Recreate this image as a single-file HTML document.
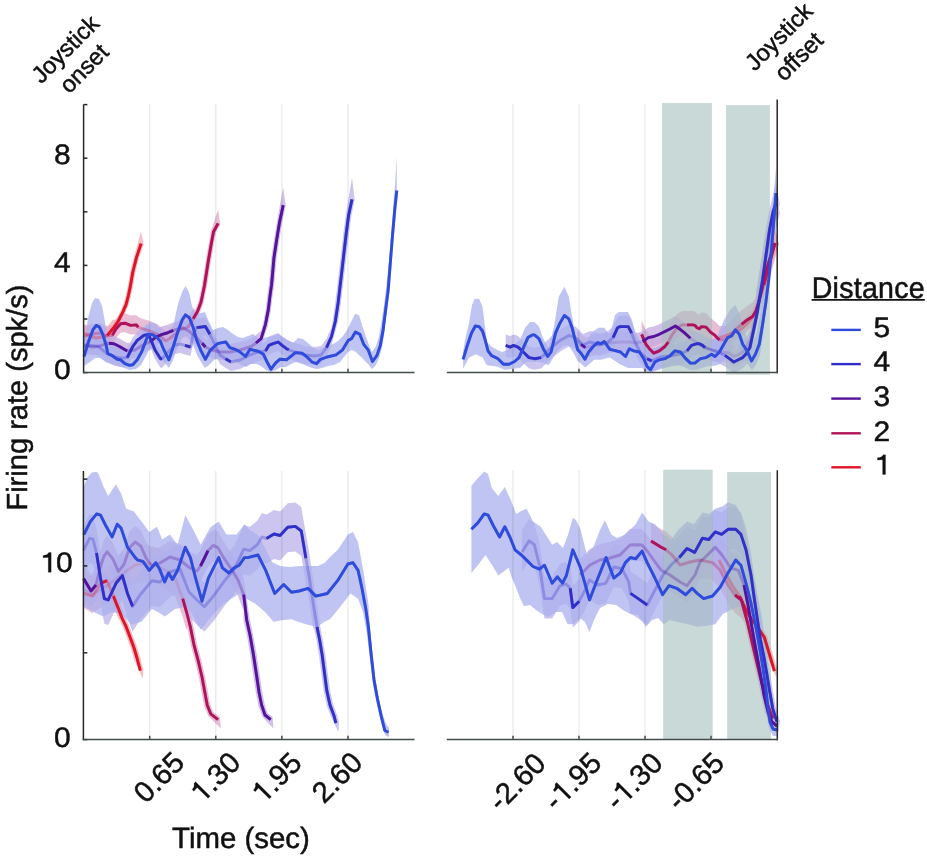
<!DOCTYPE html>
<html><head><meta charset="utf-8"><style>
html,body{margin:0;padding:0;background:#fff;}
svg{display:block;}
text{font-family:"Liberation Sans",sans-serif;fill:#111;text-rendering:geometricPrecision;}
</style></head><body>
<svg width="927" height="857" viewBox="0 0 927 857">
<rect width="927" height="857" fill="#fff"/>
<g stroke="#c8cccc" stroke-opacity="0.45" stroke-width="1.2"><line x1="149.7" y1="104" x2="149.7" y2="372.6"/><line x1="149.7" y1="471" x2="149.7" y2="739.4"/><line x1="215.8" y1="104" x2="215.8" y2="372.6"/><line x1="215.8" y1="471" x2="215.8" y2="739.4"/><line x1="281.9" y1="104" x2="281.9" y2="372.6"/><line x1="281.9" y1="471" x2="281.9" y2="739.4"/><line x1="348.0" y1="104" x2="348.0" y2="372.6"/><line x1="348.0" y1="471" x2="348.0" y2="739.4"/><line x1="513" y1="104" x2="513" y2="372.6"/><line x1="513" y1="470" x2="513" y2="739.4"/><line x1="579" y1="104" x2="579" y2="372.6"/><line x1="579" y1="470" x2="579" y2="739.4"/><line x1="645" y1="104" x2="645" y2="372.6"/><line x1="645" y1="470" x2="645" y2="739.4"/><line x1="711" y1="104" x2="711" y2="372.6"/><line x1="711" y1="470" x2="711" y2="739.4"/></g>
<rect x="662.1" y="103" width="49.7" height="269.6" fill="#c9d9d8"/>
<rect x="726.1" y="105.2" width="43.7" height="269.4" fill="#c9d9d8"/>
<rect x="663.3" y="469.8" width="49.3" height="269.6" fill="#c9d9d8"/>
<rect x="727.3" y="472.1" width="43.7" height="267.3" fill="#c9d9d8"/>
<g style="isolation:isolate;mix-blend-mode:multiply"><polygon points="84.0,324.0 90.0,327.0 96.0,329.0 102.0,328.0 107.3,326.4 112.8,319.8 116.1,319.7 120.4,311.0 123.6,303.6 125.8,295.4 127.9,285.0 130.3,271.5 134.0,256.7 141.1,231.6 143.6,244.4 139.0,258.1 135.3,272.5 133.1,286.0 130.8,296.6 128.6,305.2 125.2,313.2 120.5,322.3 112.8,336.8 107.3,343.4 102.0,345.0 96.0,346.0 90.0,344.0 84.0,341.0" fill="rgb(242,168,175)" fill-opacity="0.75"/><polygon points="84.0,326.0 92.0,324.0 100.0,323.0 106.0,326.0 112.3,325.4 116.1,318.8 120.6,313.8 125.0,313.2 130.5,315.4 136.1,314.9 138.3,317.1 143.0,319.0 150.0,321.0 157.0,324.0 166.0,331.0 173.0,326.0 180.0,320.0 188.0,317.0 193.2,308.8 195.3,309.9 198.5,301.5 201.8,285.5 205.4,262.5 208.2,245.9 211.0,230.9 218.1,209.4 220.4,224.7 216.0,232.5 213.4,246.9 210.6,263.3 207.0,286.5 203.5,302.9 200.1,312.1 193.2,327.8 188.0,336.0 180.0,339.0 173.0,345.0 166.0,350.0 157.0,343.0 150.0,340.0 143.0,338.0 138.3,336.1 136.1,333.9 130.5,334.4 125.0,332.2 120.6,332.8 116.1,337.8 112.3,344.4 106.0,345.0 100.0,342.0 92.0,343.0 84.0,345.0" fill="rgb(224,168,202)" fill-opacity="0.75"/><polygon points="84.0,337.0 92.0,339.0 100.0,338.0 105.0,336.0 108.9,335.2 113.9,335.7 119.5,338.5 127.2,342.9 135.0,342.0 143.0,337.0 150.0,334.0 156.0,329.0 162.2,326.3 167.0,325.0 173.3,322.4 182.2,319.6 188.8,323.0 195.0,328.0 202.1,335.2 205.4,339.0 212.0,342.0 220.0,344.0 230.0,344.0 240.0,342.0 251.1,338.5 256.0,335.0 261.1,330.7 263.0,323.7 265.7,309.5 267.3,296.3 269.0,284.1 271.4,257.1 274.2,238.6 276.9,222.0 283.2,187.1 285.7,205.6 282.1,223.0 279.4,239.4 276.6,257.7 274.2,284.7 272.5,296.9 270.9,310.3 268.0,324.9 261.1,346.7 256.0,351.0 251.1,354.5 240.0,358.0 230.0,360.0 220.0,360.0 212.0,358.0 205.4,355.0 202.1,351.2 195.0,344.0 188.8,339.0 182.2,335.6 173.3,338.4 167.0,341.0 162.2,342.3 156.0,345.0 150.0,350.0 143.0,353.0 135.0,358.0 127.2,358.9 119.5,354.5 113.9,351.7 108.9,351.2 105.0,352.0 100.0,354.0 92.0,355.0 84.0,353.0" fill="rgb(195,171,224)" fill-opacity="0.75"/><polygon points="84.0,337.5 90.6,336.4 98.4,337.5 106.2,344.0 115.0,348.0 122.0,349.0 127.2,348.6 132.8,337.5 137.2,331.4 143.8,326.4 148.3,325.3 151.0,331.0 154.9,340.8 160.5,349.7 162.2,349.7 168.0,343.0 175.0,336.0 180.0,335.0 185.0,336.4 190.5,338.0 193.0,326.0 196.6,318.6 205.4,317.5 209.9,325.3 215.0,336.0 220.0,346.0 225.4,349.7 230.9,353.0 240.0,351.0 250.0,346.0 258.0,343.0 265.5,341.9 268.8,336.4 273.2,334.7 278.2,333.0 282.1,336.4 286.5,339.7 288.8,340.8 295.0,343.0 305.0,346.0 315.0,347.0 321.0,346.0 326.5,338.6 331.5,327.5 332.7,320.5 335.4,301.8 339.8,264.6 343.2,234.8 345.8,214.8 352.0,177.4 354.7,200.0 351.4,215.8 348.8,235.4 345.4,265.2 341.0,302.6 338.1,321.5 331.5,345.5 326.5,356.6 321.0,364.0 315.0,365.0 305.0,364.0 295.0,361.0 288.8,358.8 286.5,357.7 282.1,354.4 278.2,351.0 273.2,352.7 268.8,354.4 265.5,359.9 258.0,361.0 250.0,364.0 240.0,369.0 230.9,371.0 225.4,367.7 220.0,364.0 215.0,354.0 209.9,343.3 205.4,335.5 196.6,336.6 193.0,344.0 190.5,356.0 185.0,354.4 180.0,353.0 175.0,354.0 168.0,361.0 162.2,367.7 160.5,367.7 154.9,358.8 151.0,349.0 148.3,343.3 143.8,344.4 137.2,349.4 132.8,355.5 127.2,366.6 122.0,367.0 115.0,366.0 106.2,362.0 98.4,355.5 90.6,354.4 84.0,355.5" fill="rgb(186,178,234)" fill-opacity="0.75"/><polygon points="84.0,345.0 88.0,318.0 92.0,303.0 95.0,298.0 99.0,299.0 102.0,306.0 105.0,322.0 108.0,340.0 114.0,346.0 122.0,349.0 130.0,352.0 136.0,347.0 141.0,336.0 146.0,325.0 151.0,322.0 156.0,324.0 161.0,330.0 166.0,342.0 170.0,340.0 174.0,322.0 178.0,304.0 182.0,292.0 185.5,286.0 189.0,292.0 192.0,306.0 196.0,314.0 201.0,313.0 205.0,312.0 209.0,322.0 213.0,330.0 218.0,328.0 223.0,327.0 228.0,330.0 233.0,334.0 238.0,337.0 243.0,338.0 248.0,336.0 253.0,334.0 258.0,338.0 263.0,338.0 268.0,337.0 273.0,336.0 278.0,334.0 283.0,337.0 288.0,340.0 293.0,343.0 298.0,338.0 303.0,339.0 308.0,343.0 313.0,348.0 318.0,350.0 323.0,348.0 328.0,346.0 333.0,344.0 338.0,341.0 343.0,336.0 347.0,330.0 351.0,322.0 355.0,314.0 359.0,315.0 362.0,325.0 365.0,334.0 369.0,345.0 372.0,352.0 376.0,346.0 379.0,336.0 381.0,325.0 383.0,312.0 385.0,298.0 387.0,280.0 389.0,260.0 391.0,238.0 393.0,210.0 395.0,185.0 396.8,156.0 396.8,193.0 396.0,200.0 394.0,225.0 392.0,250.0 390.0,275.0 388.0,298.0 386.0,318.0 384.0,335.0 382.0,348.0 379.0,358.0 376.0,365.0 372.0,369.0 368.0,364.0 364.0,360.0 360.0,356.0 356.0,352.0 352.0,350.0 348.0,352.0 344.0,357.0 340.0,362.0 334.0,365.0 328.0,366.0 322.0,368.0 317.0,369.0 312.0,368.0 307.0,366.0 302.0,364.0 296.0,362.0 291.0,364.0 286.0,367.0 281.0,367.0 276.0,370.0 271.0,372.0 266.0,370.0 261.0,366.0 256.0,364.0 251.0,364.0 246.0,367.0 241.0,365.0 236.0,362.0 230.0,360.0 225.0,357.0 219.0,358.0 214.0,360.0 209.0,365.0 205.0,368.0 201.0,362.0 197.0,355.0 193.0,345.0 189.0,338.0 185.0,335.0 181.0,340.0 177.0,349.0 173.0,360.0 169.0,368.0 164.0,362.0 160.0,356.0 155.0,350.0 150.0,348.0 146.0,356.0 141.0,365.0 136.0,369.0 130.0,370.0 124.0,368.0 118.0,366.0 112.0,364.0 106.0,362.0 100.0,358.0 95.0,358.0 90.0,362.0 84.0,366.0" fill="rgb(171,176,238)" fill-opacity="0.75"/><polygon points="719.0,330.0 725.0,328.0 732.0,325.0 740.0,322.0 746.0,317.0 752.0,310.0 758.0,297.0 760.1,283.9 766.1,261.0 775.0,229.0 778.9,244.0 773.9,263.0 767.9,286.1 758.0,313.0 752.0,326.0 746.0,333.0 740.0,338.0 732.0,341.0 725.0,344.0 719.0,346.0" fill="rgb(242,168,175)" fill-opacity="0.75"/><polygon points="641.6,320.3 646.0,330.3 649.4,334.7 653.8,339.2 659.3,336.9 664.9,332.5 668.2,328.1 672.0,321.0 677.0,314.0 682.0,311.0 687.0,310.9 692.6,310.9 695.0,311.4 697.0,313.7 699.4,314.8 701.5,312.6 706.1,313.1 710.5,318.1 715.0,321.4 719.4,325.9 725.0,326.0 730.0,322.0 735.0,316.0 741.6,310.3 747.1,305.9 752.6,302.6 756.0,297.0 758.7,288.2 757.6,290.2 761.1,274.0 766.2,256.8 775.0,227.0 778.8,244.3 773.8,259.2 768.9,276.0 765.4,292.0 758.7,312.2 756.0,321.0 752.6,326.6 747.1,329.9 741.6,334.3 735.0,340.0 730.0,346.0 725.0,350.0 719.4,349.9 715.0,345.4 710.5,342.1 706.1,337.1 701.5,336.6 699.4,338.8 697.0,337.7 695.0,335.4 692.6,334.9 687.0,334.9 682.0,335.0 677.0,338.0 672.0,345.0 668.2,352.1 664.9,356.5 659.3,360.9 653.8,363.2 649.4,358.7 646.0,354.3 641.6,344.3" fill="rgb(224,168,202)" fill-opacity="0.75"/><polygon points="577.0,331.0 581.0,334.3 585.4,337.6 592.0,336.0 600.0,334.0 610.0,333.0 620.0,332.0 630.0,332.0 636.0,333.0 642.7,331.5 648.3,327.6 653.8,326.5 659.3,324.3 664.9,321.5 670.4,318.8 675.4,316.0 679.3,318.8 683.7,322.1 690.4,328.2 700.0,335.0 712.0,340.0 720.0,342.0 728.3,342.6 733.8,346.5 739.3,344.3 745.0,340.0 750.0,330.0 755.0,310.0 756.1,291.3 761.1,261.3 766.1,235.1 776.0,194.0 779.9,213.0 773.9,236.9 768.9,262.7 763.9,292.7 755.0,330.0 750.0,350.0 745.0,360.0 739.3,364.3 733.8,366.5 728.3,362.6 720.0,362.0 712.0,360.0 700.0,355.0 690.4,348.2 683.7,342.1 679.3,338.8 675.4,336.0 670.4,338.8 664.9,341.5 659.3,344.3 653.8,346.5 648.3,347.6 642.7,351.5 636.0,353.0 630.0,352.0 620.0,352.0 610.0,353.0 600.0,354.0 592.0,356.0 585.4,357.6 581.0,354.3 577.0,351.0" fill="rgb(195,171,224)" fill-opacity="0.75"/><polygon points="505.7,334.4 510.2,336.1 513.5,334.4 518.0,336.1 524.6,342.2 529.0,346.6 534.6,347.7 541.1,346.6 552.2,335.5 561.0,328.9 568.8,324.4 576.0,327.0 583.0,334.0 590.0,331.0 600.0,334.0 608.0,331.0 613.1,326.6 617.6,316.7 620.0,315.6 623.9,315.6 628.3,315.6 631.6,322.2 635.0,331.0 640.0,341.0 647.1,347.7 651.6,349.9 660.0,346.0 670.0,345.0 680.0,343.0 687.0,339.9 691.5,334.4 697.0,332.7 699.4,332.7 702.6,334.4 705.0,336.6 712.0,339.0 718.0,341.0 724.9,344.4 729.4,347.7 733.8,351.0 739.3,348.3 742.7,346.6 746.0,343.0 749.9,336.6 753.7,318.9 757.1,302.3 756.5,292.6 758.6,279.4 762.0,254.5 765.6,229.4 769.1,211.1 776.0,183.0 779.8,204.3 776.9,212.9 773.4,230.6 770.0,255.5 766.6,280.6 764.3,294.0 757.1,324.3 753.7,340.9 749.9,358.6 746.0,365.0 742.7,368.6 739.3,370.3 733.8,373.0 729.4,369.7 724.9,366.4 718.0,363.0 712.0,361.0 705.0,358.6 702.6,356.4 699.4,354.7 697.0,354.7 691.5,356.4 687.0,361.9 680.0,365.0 670.0,367.0 660.0,368.0 651.6,371.9 647.1,369.7 640.0,363.0 635.0,353.0 631.6,344.2 628.3,337.6 623.9,337.6 620.0,337.6 617.6,338.7 613.1,348.6 608.0,353.0 600.0,356.0 590.0,353.0 583.0,356.0 576.0,349.0 568.8,346.4 561.0,350.9 552.2,357.5 541.1,368.6 534.6,369.7 529.0,368.6 524.6,364.2 518.0,358.1 513.5,356.4 510.2,358.1 505.7,356.4" fill="rgb(186,178,234)" fill-opacity="0.75"/><polygon points="463.1,352.0 465.0,340.0 469.2,322.1 472.0,305.0 474.7,298.8 479.1,298.8 482.5,306.6 484.7,324.3 486.9,342.1 491.3,346.5 496.9,349.8 502.0,352.0 508.0,350.0 514.0,345.0 520.0,340.0 525.0,328.0 530.0,322.1 534.4,322.0 538.9,326.6 543.0,338.0 548.8,348.7 554.4,324.3 558.8,296.6 564.4,286.7 568.8,296.6 572.1,316.6 575.4,335.4 580.0,340.0 586.0,342.0 592.1,332.1 598.7,327.7 604.3,327.7 609.8,335.4 615.0,315.0 619.0,312.0 628.0,312.0 632.0,320.0 636.0,335.0 640.0,342.0 648.0,348.0 655.0,348.0 662.0,345.0 670.0,340.0 676.0,335.0 682.0,340.0 688.0,345.0 694.0,348.0 700.0,345.0 706.0,342.0 712.0,340.0 718.0,335.0 724.0,320.0 730.0,310.0 735.5,305.0 740.0,315.0 744.0,330.0 748.0,340.0 752.0,345.0 756.0,335.0 760.0,315.0 763.0,295.0 766.0,270.0 769.0,245.0 772.0,215.0 774.0,190.0 776.0,168.0 776.0,200.0 774.0,230.0 772.0,255.0 769.0,285.0 766.0,310.0 763.0,335.0 760.0,355.0 756.0,365.0 752.0,370.0 749.0,366.0 745.0,360.0 741.0,352.0 737.0,345.0 732.0,350.0 726.0,358.0 720.0,364.0 714.0,366.0 708.0,366.0 702.0,368.0 696.0,370.0 690.0,370.0 684.0,367.0 678.0,365.0 672.0,365.0 665.0,368.0 658.0,370.0 652.0,372.0 647.0,372.0 642.0,368.0 636.0,368.0 628.0,368.0 620.0,364.2 609.8,357.6 600.9,359.8 594.3,359.8 585.4,367.6 577.7,360.9 573.0,352.0 568.0,345.0 563.0,346.0 557.7,350.9 553.0,358.0 548.8,365.3 540.0,362.0 530.0,362.0 526.0,362.0 520.0,368.0 513.5,368.7 504.6,369.8 496.9,366.5 486.9,365.3 482.5,357.6 475.8,354.3 469.2,357.6 463.1,368.7" fill="rgb(171,176,238)" fill-opacity="0.75"/><polygon points="83.9,583.5 92.8,586.1 100.5,573.3 107.0,570.7 113.4,586.1 118.5,598.9 124.9,616.7 129.1,625.7 133.0,635.9 136.9,646.5 140.1,657.1 143.4,669.8 142.7,678.6 133.9,658.9 130.9,648.5 127.0,638.1 123.3,628.1 119.1,619.3 118.5,618.9 113.4,606.1 107.0,590.7 100.5,593.3 92.8,606.1 83.9,603.5" fill="rgb(242,168,175)" fill-opacity="0.75"/><polygon points="84.0,572.0 92.0,577.0 100.0,572.0 108.0,567.0 115.0,562.0 125.0,554.0 135.0,547.0 145.0,545.0 155.0,547.0 165.0,552.0 175.0,560.0 182.7,580.7 186.5,594.0 193.5,626.2 197.1,644.3 201.2,659.5 205.1,676.4 210.3,704.4 213.5,712.3 220.0,717.0 220.8,728.6 208.3,716.1 204.1,705.8 198.9,677.6 195.0,661.1 190.9,645.7 187.3,627.6 186.5,630.0 182.7,616.7 175.0,596.0 165.0,588.0 155.0,583.0 145.0,581.0 135.0,583.0 125.0,590.0 115.0,598.0 108.0,603.0 100.0,608.0 92.0,613.0 84.0,608.0" fill="rgb(224,168,202)" fill-opacity="0.75"/><polygon points="83.6,562.5 91.0,575.0 96.0,569.0 100.0,552.0 104.0,540.0 107.2,535.8 112.8,542.8 118.4,555.4 124.0,548.4 129.6,531.6 135.2,526.0 140.8,530.2 146.0,542.0 152.0,550.0 160.0,547.0 170.0,541.0 180.0,544.0 190.0,552.0 197.0,555.0 200.5,550.0 204.5,542.0 208.0,534.7 213.4,529.4 217.9,531.6 224.0,542.3 232.0,554.0 238.0,564.0 243.7,578.7 249.9,619.5 253.1,634.4 256.7,654.5 259.7,674.5 262.2,691.5 264.7,704.2 267.7,713.3 272.7,717.1 273.4,728.6 262.3,716.7 258.5,705.8 255.8,692.5 253.3,675.5 250.3,655.5 246.9,635.6 243.5,620.5 243.7,610.7 238.0,596.0 232.0,586.0 224.0,574.3 217.9,563.6 213.4,561.4 208.0,566.7 204.5,574.0 200.5,582.0 197.0,587.0 190.0,584.0 180.0,576.0 170.0,573.0 160.0,579.0 152.0,582.0 146.0,574.0 140.8,562.2 135.2,558.0 129.6,563.6 124.0,580.4 118.4,587.4 112.8,574.8 107.2,567.8 104.0,572.0 100.0,584.0 96.0,601.0 91.0,607.0 83.6,594.5" fill="rgb(195,171,224)" fill-opacity="0.75"/><polygon points="83.4,526.6 89.5,514.3 93.0,515.2 96.5,529.0 100.5,554.1 104.4,574.7 108.2,576.0 116.0,559.3 122.4,551.6 127.5,569.5 132.6,582.4 140.0,571.0 151.9,556.7 160.0,558.0 170.0,548.0 180.0,545.0 189.0,568.0 197.0,576.0 204.3,582.8 213.4,572.2 225.5,555.5 234.6,544.9 243.7,525.2 249.8,526.7 257.4,520.6 261.9,513.0 266.5,514.5 274.0,510.0 280.1,511.5 287.7,503.2 295.3,502.4 301.3,507.0 305.9,534.3 308.9,550.9 313.5,581.3 320.2,626.3 322.7,639.2 325.4,654.8 330.0,690.1 333.1,704.1 337.1,715.0 339.0,722.4 338.6,732.2 331.1,717.0 326.9,705.9 323.6,691.1 319.0,655.6 316.5,640.4 313.8,627.5 313.5,630.3 308.9,599.9 305.9,583.3 301.3,556.0 295.3,551.4 287.7,552.2 280.1,560.5 274.0,559.0 266.5,563.5 261.9,562.0 257.4,569.6 249.8,575.7 243.7,574.2 234.6,593.9 225.5,604.5 213.4,621.2 204.3,631.8 197.0,625.0 189.0,617.0 180.0,594.0 170.0,597.0 160.0,607.0 151.9,605.7 140.0,620.0 132.6,631.4 127.5,618.5 122.4,600.6 116.0,608.3 108.2,625.0 104.4,623.7 100.5,603.1 96.5,578.0 93.0,564.2 89.5,563.3 83.4,575.6" fill="rgb(186,178,234)" fill-opacity="0.75"/><polygon points="83.9,485.7 87.0,478.0 91.6,472.8 95.7,471.7 98.0,472.8 101.0,480.0 103.1,485.7 108.2,496.0 112.0,490.0 116.0,484.4 121.1,493.4 126.2,508.8 133.9,511.4 141.6,521.6 149.3,531.9 157.0,526.8 162.2,539.6 169.9,534.5 177.6,544.7 185.3,515.2 193.0,529.3 200.7,544.7 206.0,535.0 211.0,526.8 218.7,521.6 226.4,534.5 236.6,534.5 244.4,524.2 250.0,530.0 258.0,535.0 265.0,548.0 272.0,562.0 280.0,566.0 290.0,567.0 300.0,566.0 310.0,566.0 318.0,566.0 324.7,562.7 331.0,556.0 337.6,549.9 343.0,542.0 347.9,534.5 353.0,531.9 358.1,542.2 363.3,570.4 368.4,603.8 371.0,640.0 374.0,670.0 378.0,695.0 382.0,712.0 386.0,724.0 389.0,728.0 389.0,737.0 385.0,735.0 381.0,722.0 377.0,705.0 373.0,685.0 370.0,660.0 367.0,635.0 363.0,612.0 358.1,598.7 350.4,593.5 342.7,603.8 336.0,612.0 329.9,619.2 324.0,622.0 317.0,626.9 306.8,624.4 299.0,622.0 291.4,619.2 283.0,620.0 273.4,621.8 265.0,612.0 255.4,603.8 245.0,598.0 239.2,593.5 223.8,603.8 213.5,614.1 207.0,622.0 200.7,629.5 194.0,618.0 187.9,606.4 175.0,608.9 164.7,616.6 158.0,612.0 151.9,608.9 141.6,621.8 131.4,624.4 121.1,614.1 112.0,612.0 103.1,616.6 92.8,611.5 83.9,606.4" fill="rgb(171,176,238)" fill-opacity="0.75"/><polygon points="719.0,548.0 725.0,560.0 732.0,573.0 739.6,584.0 746.0,598.0 752.0,608.0 760.6,626.1 767.2,635.9 772.5,653.2 777.5,670.2 776.2,677.1 766.3,655.0 761.4,638.5 755.4,629.9 752.0,632.0 746.0,622.0 739.6,608.0 732.0,597.0 725.0,584.0 719.0,572.0" fill="rgb(242,168,175)" fill-opacity="0.75"/><polygon points="651.0,523.0 654.7,525.3 661.2,529.3 666.1,531.8 672.0,537.0 680.0,547.0 690.0,544.0 700.0,542.0 712.6,544.6 720.0,552.0 728.0,567.0 735.0,577.0 741.4,582.0 750.5,621.2 757.2,650.1 764.0,678.7 770.8,704.0 775.7,717.3 774.5,724.4 764.6,705.8 757.8,680.3 751.0,651.5 744.3,622.8 741.4,618.0 735.0,613.0 728.0,603.0 720.0,588.0 712.6,580.6 700.0,578.0 690.0,580.0 680.0,583.0 672.0,573.0 666.1,567.8 661.2,565.3 654.7,561.3 651.0,559.0" fill="rgb(224,168,202)" fill-opacity="0.75"/><polygon points="580.0,559.0 590.0,549.0 600.0,544.0 610.0,542.0 620.0,539.0 630.0,529.0 636.0,528.7 642.0,529.0 648.0,536.0 655.0,546.0 661.3,554.3 670.0,559.0 680.0,566.0 687.0,569.7 695.0,559.0 700.0,546.0 707.5,539.0 715.2,531.2 722.0,539.0 730.6,551.8 738.3,554.3 744.0,569.0 748.0,589.0 755.2,627.4 759.1,649.4 763.2,671.4 767.1,694.4 771.1,711.1 774.7,720.3 779.0,723.5 778.8,732.0 769.3,723.7 764.9,712.9 760.9,695.6 756.8,672.6 752.9,650.6 748.8,628.6 748.0,621.0 744.0,601.0 738.3,586.3 730.6,583.8 722.0,571.0 715.2,563.2 707.5,571.0 700.0,578.0 695.0,591.0 687.0,601.7 680.0,598.0 670.0,591.0 661.3,586.3 655.0,578.0 648.0,568.0 642.0,561.0 636.0,560.7 630.0,561.0 620.0,571.0 610.0,574.0 600.0,576.0 590.0,581.0 580.0,591.0" fill="rgb(195,171,224)" fill-opacity="0.75"/><polygon points="522.0,530.0 529.1,518.9 534.3,522.7 539.4,543.0 544.5,576.6 552.2,576.6 560.0,563.8 566.0,562.0 570.2,566.3 572.8,585.6 579.2,579.2 585.0,568.0 589.4,558.0 597.6,563.0 605.7,561.3 613.9,545.0 622.0,546.6 628.6,559.6 630.5,571.4 638.2,576.6 647.2,583.0 655.0,568.0 663.0,553.0 671.0,543.0 679.3,535.5 687.0,526.5 694.7,530.4 702.4,516.3 708.8,517.5 715.2,509.9 721.6,512.4 728.0,507.3 735.7,507.3 740.9,512.4 746.0,527.8 751.1,553.5 754.5,578.0 757.5,598.0 763.7,639.5 767.4,658.6 770.2,674.5 772.6,689.2 775.8,707.6 778.0,715.0 780.0,720.8 778.8,727.8 772.0,717.0 769.6,709.0 766.2,690.2 763.8,675.5 761.2,659.8 757.3,640.5 757.5,640.0 754.5,620.0 751.1,595.5 746.0,569.8 740.9,554.4 735.7,549.3 728.0,549.3 721.6,554.4 715.2,551.9 708.8,559.5 702.4,558.3 694.7,572.4 687.0,568.5 679.3,577.5 671.0,585.0 663.0,595.0 655.0,610.0 647.2,625.0 638.2,618.6 630.5,613.4 628.6,601.6 622.0,588.6 613.9,587.0 605.7,603.3 597.6,605.0 589.4,600.0 585.0,610.0 579.2,621.2 572.8,627.6 570.2,608.3 566.0,604.0 560.0,605.8 552.2,618.6 544.5,618.6 539.4,585.0 534.3,564.7 529.1,560.9 522.0,572.0" fill="rgb(186,178,234)" fill-opacity="0.75"/><polygon points="471.4,485.7 478.0,478.0 484.2,471.6 488.0,474.0 491.9,488.2 498.3,495.9 504.8,487.0 511.2,501.1 516.3,513.9 521.0,511.0 526.6,508.8 533.0,521.6 540.7,526.7 546.0,535.0 552.2,544.7 557.0,542.0 563.0,548.0 568.0,535.0 572.8,517.8 576.0,520.0 580.5,529.3 586.9,555.0 593.3,547.3 600.0,530.0 604.9,520.3 611.3,534.4 617.0,538.0 625.4,534.4 635.7,524.2 642.1,512.6 648.5,521.6 654.9,524.2 663.9,534.4 671.0,540.0 678.0,530.0 687.0,521.6 694.0,524.0 702.4,512.6 709.0,514.0 715.2,508.8 722.9,506.2 728.0,502.3 735.7,504.9 740.9,513.9 746.0,537.0 750.0,556.0 753.7,575.5 757.5,595.0 761.4,614.0 765.0,640.0 768.0,670.0 771.0,700.0 774.0,718.0 777.0,722.0 777.0,736.0 773.0,736.0 769.0,728.0 766.0,712.0 762.0,690.0 758.0,668.0 754.0,645.0 750.0,625.0 745.0,612.0 740.0,606.0 733.2,608.8 722.9,614.0 715.2,624.2 705.0,626.0 697.2,626.8 687.0,624.0 678.0,622.0 670.0,620.0 663.9,624.2 658.0,618.0 652.0,620.0 645.9,626.8 638.0,615.0 630.5,614.0 623.0,610.0 616.0,605.0 608.0,604.0 600.0,608.0 594.0,620.0 589.5,632.0 585.0,622.0 580.0,618.0 574.0,624.0 567.6,624.3 562.0,612.0 556.0,612.0 548.0,617.0 542.0,614.0 536.0,610.0 530.0,605.0 524.0,606.3 520.0,598.0 516.3,588.3 512.0,578.0 508.6,567.8 503.0,572.0 498.3,575.5 492.0,565.0 485.5,555.0 478.0,565.0 471.4,572.9" fill="rgb(171,176,238)" fill-opacity="0.75"/></g>
<rect x="662.1" y="103" width="49.7" height="269.6" fill="#c9d9d8" fill-opacity="0.5"/>
<rect x="726.1" y="105.2" width="43.7" height="269.4" fill="#c9d9d8" fill-opacity="0.5"/>
<rect x="663.3" y="469.8" width="49.3" height="269.6" fill="#c9d9d8" fill-opacity="0.5"/>
<rect x="727.3" y="472.1" width="43.7" height="267.3" fill="#c9d9d8" fill-opacity="0.5"/>
<polyline points="84.0,333.0 90.0,336.0 96.0,338.0 102.0,337.0 107.3,335.4 112.8,328.8 118.3,321.0 122.8,312.1 126.1,304.4 128.3,296.0 130.5,285.5 132.8,272.0 136.5,257.4 141.1,243.6" fill="none" stroke="#e01428" stroke-width="2.9" stroke-opacity="0.3" stroke-linejoin="round"/><polyline points="107.3,335.4 112.8,328.8 118.3,321.0 122.8,312.1 126.1,304.4 128.3,296.0 130.5,285.5 132.8,272.0 136.5,257.4 141.1,243.6" fill="none" stroke="#e01428" stroke-width="2.9" stroke-linejoin="round"/><polyline points="84.0,336.0 92.0,334.0 100.0,333.0 106.0,336.0 112.3,335.4 116.1,328.8 120.6,323.8 125.0,323.2 130.5,325.4 136.1,324.9 138.3,327.1 143.0,329.0 150.0,331.0 157.0,334.0 166.0,341.0 173.0,336.0 180.0,330.0 188.0,327.0 193.2,318.8 197.7,311.0 201.0,302.2 204.4,286.0 208.0,262.9 210.8,246.4 213.5,231.7 218.1,223.4" fill="none" stroke="#b0125a" stroke-width="2.9" stroke-opacity="0.3" stroke-linejoin="round"/><polyline points="112.3,335.4 116.1,328.8 120.6,323.8 125.0,323.2 130.5,325.4 136.1,324.9 138.3,327.1" fill="none" stroke="#b0125a" stroke-width="2.9" stroke-linejoin="round"/><polyline points="193.2,318.8 197.7,311.0 201.0,302.2 204.4,286.0 208.0,262.9 210.8,246.4 213.5,231.7 218.1,223.4" fill="none" stroke="#b0125a" stroke-width="2.9" stroke-linejoin="round"/><polyline points="84.0,345.0 92.0,347.0 100.0,346.0 105.0,344.0 108.9,343.2 113.9,343.7 119.5,346.5 127.2,350.9 135.0,350.0 143.0,345.0 150.0,342.0 156.0,337.0 162.2,334.3 167.0,333.0 173.3,330.4 182.2,327.6 188.8,331.0 195.0,336.0 202.1,343.2 205.4,347.0 212.0,350.0 220.0,352.0 230.0,352.0 240.0,350.0 251.1,346.5 256.0,343.0 261.1,338.7 265.5,324.3 268.3,309.9 269.9,296.6 271.6,284.4 274.0,257.4 276.8,239.0 279.5,222.5 283.2,205.1" fill="none" stroke="#55129a" stroke-width="2.9" stroke-opacity="0.3" stroke-linejoin="round"/><polyline points="108.9,343.2 113.9,343.7 119.5,346.5 127.2,350.9" fill="none" stroke="#55129a" stroke-width="2.9" stroke-linejoin="round"/><polyline points="150.0,342.0 156.0,337.0 162.2,334.3 167.0,333.0 173.3,330.4" fill="none" stroke="#55129a" stroke-width="2.9" stroke-linejoin="round"/><polyline points="202.1,343.2 205.4,347.0" fill="none" stroke="#55129a" stroke-width="2.9" stroke-linejoin="round"/><polyline points="256.0,343.0 261.1,338.7 265.5,324.3 268.3,309.9 269.9,296.6 271.6,284.4 274.0,257.4 276.8,239.0 279.5,222.5 283.2,205.1" fill="none" stroke="#55129a" stroke-width="2.9" stroke-linejoin="round"/><polyline points="84.0,346.5 90.6,345.4 98.4,346.5 106.2,353.0 115.0,357.0 122.0,358.0 127.2,357.6 132.8,346.5 137.2,340.4 143.8,335.4 148.3,334.3 151.0,340.0 154.9,349.8 160.5,358.7 162.2,358.7 168.0,352.0 175.0,345.0 180.0,344.0 185.0,345.4 190.5,347.0 193.0,335.0 196.6,327.6 205.4,326.5 209.9,334.3 215.0,345.0 220.0,355.0 225.4,358.7 230.9,362.0 240.0,360.0 250.0,355.0 258.0,352.0 265.5,350.9 268.8,345.4 273.2,343.7 278.2,342.0 282.1,345.4 286.5,348.7 288.8,349.8 295.0,352.0 305.0,355.0 315.0,356.0 321.0,355.0 326.5,347.6 331.5,336.5 335.4,321.0 338.2,302.2 342.6,264.9 346.0,235.1 348.6,215.3 352.0,199.4" fill="none" stroke="#3030c8" stroke-width="2.9" stroke-opacity="0.3" stroke-linejoin="round"/><polyline points="127.2,357.6 132.8,346.5 137.2,340.4 143.8,335.4 148.3,334.3 151.0,340.0 154.9,349.8 160.5,358.7 162.2,358.7" fill="none" stroke="#3030c8" stroke-width="2.9" stroke-linejoin="round"/><polyline points="185.0,345.4 190.5,347.0" fill="none" stroke="#3030c8" stroke-width="2.9" stroke-linejoin="round"/><polyline points="196.6,327.6 205.4,326.5 209.9,334.3" fill="none" stroke="#3030c8" stroke-width="2.9" stroke-linejoin="round"/><polyline points="225.4,358.7 230.9,362.0" fill="none" stroke="#3030c8" stroke-width="2.9" stroke-linejoin="round"/><polyline points="265.5,350.9 268.8,345.4 273.2,343.7 278.2,342.0 282.1,345.4 286.5,348.7 288.8,349.8" fill="none" stroke="#3030c8" stroke-width="2.9" stroke-linejoin="round"/><polyline points="326.5,347.6 331.5,336.5 335.4,321.0 338.2,302.2 342.6,264.9 346.0,235.1 348.6,215.3 352.0,199.4" fill="none" stroke="#3030c8" stroke-width="2.9" stroke-linejoin="round"/><polyline points="84.0,356.5 88.4,342.0 92.9,329.9 96.2,325.4 99.5,327.1 102.8,334.3 106.2,345.4 107.8,353.7 111.7,355.3 117.2,359.2 120.6,359.8 125.0,363.7 129.4,365.3 132.8,364.8 137.2,359.8 141.6,352.0 144.9,343.2 148.3,334.3 152.7,334.8 157.1,337.6 160.5,341.5 163.3,348.7 168.9,359.8 173.3,346.5 177.7,332.1 182.2,319.9 185.5,314.9 189.4,317.7 193.2,327.6 196.6,339.8 201.0,350.9 205.4,359.2 209.9,350.9 214.3,346.5 217.6,343.7 222.0,342.6 225.9,342.0 229.8,347.6 235.3,349.3 240.0,352.0 245.5,356.5 250.0,349.3 254.4,350.4 258.8,351.5 263.3,354.2 267.1,362.0 271.0,369.2 275.5,363.1 279.9,359.2 286.5,359.8 292.1,355.3 295.4,352.6 302.0,353.1 306.5,356.5 312.0,362.0 316.5,363.7 320.4,359.3 327.1,357.0 336.0,354.8 342.6,349.8 348.2,340.4 351.5,338.8 355.4,332.1 359.8,334.3 363.7,344.3 368.1,349.8 372.5,361.5 377.0,355.4 380.3,345.4 383.1,329.9 385.8,308.8 388.1,291.1 389.4,275.0 392.2,239.1 394.8,209.3 396.8,190.5" fill="none" stroke="#2e4bdc" stroke-width="2.9" stroke-opacity="0.3" stroke-linejoin="round"/><polyline points="84.0,356.5 88.4,342.0 92.9,329.9 96.2,325.4 99.5,327.1 102.8,334.3 106.2,345.4 107.8,353.7 111.7,355.3 117.2,359.2 120.6,359.8 125.0,363.7 129.4,365.3 132.8,364.8 137.2,359.8 141.6,352.0 144.9,343.2 148.3,334.3 152.7,334.8 157.1,337.6 160.5,341.5 163.3,348.7 168.9,359.8 173.3,346.5 177.7,332.1 182.2,319.9 185.5,314.9 189.4,317.7 193.2,327.6 196.6,339.8 201.0,350.9 205.4,359.2 209.9,350.9 214.3,346.5 217.6,343.7 222.0,342.6 225.9,342.0 229.8,347.6 235.3,349.3 240.0,352.0 245.5,356.5 250.0,349.3 254.4,350.4 258.8,351.5 263.3,354.2 267.1,362.0 271.0,369.2 275.5,363.1 279.9,359.2 286.5,359.8 292.1,355.3 295.4,352.6 302.0,353.1 306.5,356.5 312.0,362.0 316.5,363.7 320.4,359.3 327.1,357.0 336.0,354.8 342.6,349.8 348.2,340.4 351.5,338.8 355.4,332.1 359.8,334.3 363.7,344.3 368.1,349.8 372.5,361.5 377.0,355.4 380.3,345.4 383.1,329.9 385.8,308.8 388.1,291.1 389.4,275.0 392.2,239.1 394.8,209.3 396.8,190.5" fill="none" stroke="#2e4bdc" stroke-width="2.9" stroke-linejoin="round"/><polyline points="719.0,338.0 725.0,336.0 732.0,333.0 740.0,330.0 746.0,325.0 752.0,318.0 758.0,305.0 764.0,285.0 770.0,262.0 775.0,243.0" fill="none" stroke="#e01428" stroke-width="2.9" stroke-opacity="0.3" stroke-linejoin="round"/><polyline points="764.0,285.0 770.0,262.0 775.0,243.0" fill="none" stroke="#e01428" stroke-width="2.9" stroke-linejoin="round"/><polyline points="641.6,334.3 646.0,344.3 649.4,348.7 653.8,353.2 659.3,350.9 664.9,346.5 668.2,342.1 672.0,335.0 677.0,328.0 682.0,325.0 687.0,324.9 692.6,324.9 695.0,325.4 697.0,327.7 699.4,328.8 701.5,326.6 706.1,327.1 710.5,332.1 715.0,335.4 719.4,339.9 725.0,340.0 730.0,336.0 735.0,330.0 741.6,324.3 747.1,319.9 752.6,316.6 756.0,311.0 758.7,302.2 761.5,291.1 765.0,275.0 770.0,258.0 775.0,243.0" fill="none" stroke="#b0125a" stroke-width="2.9" stroke-opacity="0.3" stroke-linejoin="round"/><polyline points="641.6,334.3 646.0,344.3 649.4,348.7 653.8,353.2 659.3,350.9 664.9,346.5 668.2,342.1" fill="none" stroke="#b0125a" stroke-width="2.9" stroke-linejoin="round"/><polyline points="687.0,324.9 692.6,324.9 695.0,325.4 697.0,327.7 699.4,328.8 701.5,326.6 706.1,327.1 710.5,332.1 715.0,335.4 719.4,339.9" fill="none" stroke="#b0125a" stroke-width="2.9" stroke-linejoin="round"/><polyline points="741.6,324.3 747.1,319.9 752.6,316.6 756.0,311.0 758.7,302.2 761.5,291.1 765.0,275.0 770.0,258.0 775.0,243.0" fill="none" stroke="#b0125a" stroke-width="2.9" stroke-linejoin="round"/><polyline points="577.0,341.0 581.0,344.3 585.4,347.6 592.0,346.0 600.0,344.0 610.0,343.0 620.0,342.0 630.0,342.0 636.0,343.0 642.7,341.5 648.3,337.6 653.8,336.5 659.3,334.3 664.9,331.5 670.4,328.8 675.4,326.0 679.3,328.8 683.7,332.1 690.4,338.2 700.0,345.0 712.0,350.0 720.0,352.0 728.3,352.6 733.8,356.5 739.3,354.3 745.0,350.0 750.0,340.0 755.0,320.0 760.0,292.0 765.0,262.0 770.0,236.0 776.0,212.0" fill="none" stroke="#55129a" stroke-width="2.9" stroke-opacity="0.15" stroke-linejoin="round"/><polyline points="581.0,344.3 585.4,347.6" fill="none" stroke="#55129a" stroke-width="2.9" stroke-linejoin="round"/><polyline points="642.7,341.5 648.3,337.6 653.8,336.5 659.3,334.3 664.9,331.5 670.4,328.8 675.4,326.0 679.3,328.8 683.7,332.1 690.4,338.2" fill="none" stroke="#55129a" stroke-width="2.9" stroke-linejoin="round"/><polyline points="505.7,345.4 510.2,347.1 513.5,345.4 518.0,347.1 524.6,353.2 529.0,357.6 534.6,358.7 541.1,357.6 552.2,346.5 561.0,339.9 568.8,335.4 576.0,338.0 583.0,345.0 590.0,342.0 600.0,345.0 608.0,342.0 613.1,337.6 617.6,327.7 620.0,326.6 623.9,326.6 628.3,326.6 631.6,333.2 635.0,342.0 640.0,352.0 647.1,358.7 651.6,360.9 660.0,357.0 670.0,356.0 680.0,354.0 687.0,350.9 691.5,345.4 697.0,343.7 699.4,343.7 702.6,345.4 705.0,347.6 712.0,350.0 718.0,352.0 724.9,355.4 729.4,358.7 733.8,362.0 739.3,359.3 742.7,357.6 746.0,354.0 749.9,347.6 753.7,329.9 757.1,313.3 760.4,293.3 762.6,280.0 766.0,255.0 769.5,230.0 773.0,212.0 776.0,203.0" fill="none" stroke="#3030c8" stroke-width="2.9" stroke-opacity="0.3" stroke-linejoin="round"/><polyline points="505.7,345.4 510.2,347.1 513.5,345.4 518.0,347.1 524.6,353.2 529.0,357.6 534.6,358.7 541.1,357.6" fill="none" stroke="#3030c8" stroke-width="2.9" stroke-linejoin="round"/><polyline points="613.1,337.6 617.6,327.7 620.0,326.6 623.9,326.6 628.3,326.6 631.6,333.2" fill="none" stroke="#3030c8" stroke-width="2.9" stroke-linejoin="round"/><polyline points="647.1,358.7 651.6,360.9" fill="none" stroke="#3030c8" stroke-width="2.9" stroke-linejoin="round"/><polyline points="687.0,350.9 691.5,345.4 697.0,343.7 699.4,343.7 702.6,345.4 705.0,347.6" fill="none" stroke="#3030c8" stroke-width="2.9" stroke-linejoin="round"/><polyline points="724.9,355.4 729.4,358.7 733.8,362.0 739.3,359.3 742.7,357.6 746.0,354.0 749.9,347.6 753.7,329.9 757.1,313.3 760.4,293.3 762.6,280.0 766.0,255.0 769.5,230.0 773.0,212.0 776.0,203.0" fill="none" stroke="#3030c8" stroke-width="2.9" stroke-linejoin="round"/><polyline points="463.1,359.3 467.0,346.5 471.4,333.2 475.3,326.0 479.1,326.6 482.5,331.0 485.2,339.9 488.0,350.9 491.3,355.4 498.0,358.7 503.5,364.2 509.1,364.2 514.6,361.5 519.0,357.6 523.5,347.6 527.9,337.6 532.3,334.9 534.4,334.9 538.9,338.7 543.3,348.7 547.7,356.5 551.1,352.0 555.5,333.2 559.9,323.2 564.4,315.5 568.8,318.8 572.1,327.7 575.4,341.0 577.7,349.8 581.0,353.2 584.9,359.3 588.7,352.0 593.2,346.5 597.6,342.6 600.9,343.7 604.3,341.5 609.8,349.3 614.2,350.4 620.5,352.0 625.5,356.5 629.4,348.7 633.8,350.9 639.4,352.0 643.8,358.7 647.1,366.5 650.5,369.8 654.9,362.0 659.3,359.8 664.9,358.7 670.4,355.4 674.9,350.9 680.4,352.0 684.8,357.6 690.4,363.1 694.8,363.1 700.5,358.7 706.1,357.6 711.6,354.3 715.0,356.5 719.4,352.0 723.8,344.3 727.7,337.6 731.6,336.0 735.5,329.9 739.3,334.3 742.7,344.3 747.1,350.9 751.5,360.9 755.4,354.3 759.3,344.3 762.6,324.3 765.9,302.2 768.7,280.0 771.0,255.0 773.5,225.0 776.0,193.0" fill="none" stroke="#2e4bdc" stroke-width="2.9" stroke-opacity="0.3" stroke-linejoin="round"/><polyline points="463.1,359.3 467.0,346.5 471.4,333.2 475.3,326.0 479.1,326.6 482.5,331.0 485.2,339.9 488.0,350.9 491.3,355.4 498.0,358.7 503.5,364.2 509.1,364.2 514.6,361.5 519.0,357.6 523.5,347.6 527.9,337.6 532.3,334.9 534.4,334.9 538.9,338.7 543.3,348.7 547.7,356.5 551.1,352.0 555.5,333.2 559.9,323.2 564.4,315.5 568.8,318.8 572.1,327.7 575.4,341.0 577.7,349.8 581.0,353.2 584.9,359.3 588.7,352.0 593.2,346.5 597.6,342.6 600.9,343.7 604.3,341.5 609.8,349.3 614.2,350.4 620.5,352.0 625.5,356.5 629.4,348.7 633.8,350.9 639.4,352.0 643.8,358.7 647.1,366.5 650.5,369.8 654.9,362.0 659.3,359.8 664.9,358.7 670.4,355.4 674.9,350.9 680.4,352.0 684.8,357.6 690.4,363.1 694.8,363.1 700.5,358.7 706.1,357.6 711.6,354.3 715.0,356.5 719.4,352.0 723.8,344.3 727.7,337.6 731.6,336.0 735.5,329.9 739.3,334.3 742.7,344.3 747.1,350.9 751.5,360.9 755.4,354.3 759.3,344.3 762.6,324.3 765.9,302.2 768.7,280.0 771.0,255.0 773.5,225.0 776.0,193.0" fill="none" stroke="#2e4bdc" stroke-width="2.9" stroke-linejoin="round"/><polyline points="83.9,593.5 92.8,596.1 100.5,583.3 107.0,580.7 113.4,596.1 118.5,608.9 122.0,618.0 126.2,626.9 130.0,637.0 133.9,647.5 137.0,658.0 140.3,670.6" fill="none" stroke="#e01428" stroke-width="2.9" stroke-opacity="0.3" stroke-linejoin="round"/><polyline points="100.5,583.3 107.0,580.7" fill="none" stroke="#e01428" stroke-width="2.9" stroke-linejoin="round"/><polyline points="113.4,596.1 118.5,608.9 122.0,618.0 126.2,626.9 130.0,637.0 133.9,647.5 137.0,658.0 140.3,670.6" fill="none" stroke="#e01428" stroke-width="2.9" stroke-linejoin="round"/><polyline points="84.0,590.0 92.0,595.0 100.0,590.0 108.0,585.0 115.0,580.0 125.0,572.0 135.0,565.0 145.0,563.0 155.0,565.0 165.0,570.0 175.0,578.0 182.7,598.7 186.5,612.0 190.4,626.9 194.0,645.0 198.1,660.3 202.0,677.0 207.2,705.1 210.9,714.2 218.1,719.6" fill="none" stroke="#b0125a" stroke-width="2.9" stroke-opacity="0.12" stroke-linejoin="round"/><polyline points="182.7,598.7 186.5,612.0 190.4,626.9 194.0,645.0 198.1,660.3 202.0,677.0 207.2,705.1 210.9,714.2 218.1,719.6" fill="none" stroke="#b0125a" stroke-width="2.9" stroke-linejoin="round"/><polyline points="83.6,578.5 91.0,591.0 96.0,585.0 100.0,568.0 104.0,556.0 107.2,551.8 112.8,558.8 118.4,571.4 124.0,564.4 129.6,547.6 135.2,542.0 140.8,546.2 146.0,558.0 152.0,566.0 160.0,563.0 170.0,557.0 180.0,560.0 190.0,568.0 197.0,571.0 200.5,566.0 204.5,558.0 208.0,550.7 213.4,545.4 217.9,547.6 224.0,558.3 232.0,570.0 238.0,580.0 243.7,594.7 246.7,620.0 250.0,635.0 253.5,655.0 256.5,675.0 259.0,692.0 261.6,705.0 265.0,715.0 270.7,719.6" fill="none" stroke="#55129a" stroke-width="2.9" stroke-opacity="0.3" stroke-linejoin="round"/><polyline points="83.6,578.5 91.0,591.0 96.0,585.0" fill="none" stroke="#55129a" stroke-width="2.9" stroke-linejoin="round"/><polyline points="200.5,566.0 204.5,558.0 208.0,550.7" fill="none" stroke="#55129a" stroke-width="2.9" stroke-linejoin="round"/><polyline points="243.7,594.7 246.7,620.0 250.0,635.0 253.5,655.0 256.5,675.0 259.0,692.0 261.6,705.0 265.0,715.0 270.7,719.6" fill="none" stroke="#55129a" stroke-width="2.9" stroke-linejoin="round"/><polyline points="83.4,550.6 89.5,538.3 93.0,539.2 96.5,553.0 100.5,578.1 104.4,598.7 108.2,600.0 116.0,583.3 122.4,575.6 127.5,593.5 132.6,606.4 140.0,595.0 151.9,580.7 160.0,582.0 170.0,572.0 180.0,569.0 189.0,592.0 197.0,600.0 204.3,606.8 213.4,596.2 225.5,579.5 234.6,568.9 243.7,549.2 249.8,550.7 257.4,544.6 261.9,537.0 266.5,538.5 274.0,534.0 280.1,535.5 287.7,527.2 295.3,526.4 301.3,531.0 305.9,558.3 308.9,574.9 313.5,605.3 317.0,626.9 319.6,639.8 322.2,655.2 326.8,690.6 330.0,705.0 334.1,716.0 335.9,723.2" fill="none" stroke="#3030c8" stroke-width="2.9" stroke-opacity="0.3" stroke-linejoin="round"/><polyline points="96.5,553.0 100.5,578.1 104.4,598.7 108.2,600.0 116.0,583.3 122.4,575.6 127.5,593.5 132.6,606.4" fill="none" stroke="#3030c8" stroke-width="2.9" stroke-linejoin="round"/><polyline points="266.5,538.5 274.0,534.0 280.1,535.5 287.7,527.2 295.3,526.4 301.3,531.0 305.9,558.3" fill="none" stroke="#3030c8" stroke-width="2.9" stroke-linejoin="round"/><polyline points="317.0,626.9 319.6,639.8 322.2,655.2 326.8,690.6 330.0,705.0 334.1,716.0 335.9,723.2" fill="none" stroke="#3030c8" stroke-width="2.9" stroke-linejoin="round"/><polyline points="83.9,534.5 90.3,521.6 96.7,513.9 100.5,515.2 105.7,525.5 112.1,537.0 117.2,524.2 121.1,528.1 127.5,547.3 131.4,552.4 135.2,557.6 137.8,560.2 142.9,561.4 149.3,570.4 155.8,562.7 159.6,569.1 164.7,582.0 168.6,573.0 172.4,579.4 177.6,570.4 185.3,547.3 190.4,557.6 195.6,578.1 202.0,601.2 208.4,578.1 213.5,567.9 218.7,557.6 222.5,567.9 228.9,573.0 234.1,567.9 239.2,565.3 244.4,557.6 247.7,557.6 258.0,555.0 265.7,570.4 274.7,593.5 283.7,584.5 291.4,592.3 299.1,591.0 308.1,588.4 315.8,596.1 327.3,593.5 337.6,580.7 347.9,564.0 353.0,562.7 358.1,570.4 362.0,588.4 365.8,608.9 368.4,626.9 371.0,652.6 374.0,679.7 377.5,699.0 381.2,716.0 384.8,730.5 388.5,732.3" fill="none" stroke="#2e4bdc" stroke-width="2.9" stroke-opacity="0.3" stroke-linejoin="round"/><polyline points="83.9,534.5 90.3,521.6 96.7,513.9 100.5,515.2 105.7,525.5 112.1,537.0 117.2,524.2 121.1,528.1 127.5,547.3 131.4,552.4 135.2,557.6 137.8,560.2 142.9,561.4 149.3,570.4 155.8,562.7 159.6,569.1 164.7,582.0 168.6,573.0 172.4,579.4 177.6,570.4 185.3,547.3 190.4,557.6 195.6,578.1 202.0,601.2 208.4,578.1 213.5,567.9 218.7,557.6 222.5,567.9 228.9,573.0 234.1,567.9 239.2,565.3 244.4,557.6 247.7,557.6 258.0,555.0 265.7,570.4 274.7,593.5 283.7,584.5 291.4,592.3 299.1,591.0 308.1,588.4 315.8,596.1 327.3,593.5 337.6,580.7 347.9,564.0 353.0,562.7 358.1,570.4 362.0,588.4 365.8,608.9 368.4,626.9 371.0,652.6 374.0,679.7 377.5,699.0 381.2,716.0 384.8,730.5 388.5,732.3" fill="none" stroke="#2e4bdc" stroke-width="2.9" stroke-linejoin="round"/><polyline points="719.0,560.0 725.0,572.0 732.0,585.0 739.6,596.0 746.0,610.0 752.0,620.0 758.0,628.0 764.3,637.2 769.4,654.1 774.4,671.1" fill="none" stroke="#e01428" stroke-width="2.9" stroke-opacity="0.3" stroke-linejoin="round"/><polyline points="739.6,596.0 746.0,610.0 752.0,620.0 758.0,628.0 764.3,637.2 769.4,654.1 774.4,671.1" fill="none" stroke="#e01428" stroke-width="2.9" stroke-linejoin="round"/><polyline points="651.0,541.0 654.7,543.3 661.2,547.3 666.1,549.8 672.0,555.0 680.0,565.0 690.0,562.0 700.0,560.0 712.6,562.6 720.0,570.0 728.0,585.0 735.0,595.0 741.4,600.0 747.4,622.0 754.1,650.8 760.9,679.5 767.7,704.9 772.7,718.4" fill="none" stroke="#b0125a" stroke-width="2.9" stroke-opacity="0.3" stroke-linejoin="round"/><polyline points="651.0,541.0 654.7,543.3 661.2,547.3 666.1,549.8" fill="none" stroke="#b0125a" stroke-width="2.9" stroke-linejoin="round"/><polyline points="735.0,595.0 741.4,600.0 747.4,622.0 754.1,650.8 760.9,679.5 767.7,704.9 772.7,718.4" fill="none" stroke="#b0125a" stroke-width="2.9" stroke-linejoin="round"/><polyline points="580.0,575.0 590.0,565.0 600.0,560.0 610.0,558.0 620.0,555.0 630.0,545.0 636.0,544.7 642.0,545.0 648.0,552.0 655.0,562.0 661.3,570.3 670.0,575.0 680.0,582.0 687.0,585.7 695.0,575.0 700.0,562.0 707.5,555.0 715.2,547.2 722.0,555.0 730.6,567.8 738.3,570.3 744.0,585.0 748.0,605.0 752.0,628.0 756.0,650.0 760.0,672.0 764.0,695.0 768.0,712.0 772.0,722.0 777.0,726.0" fill="none" stroke="#55129a" stroke-width="2.9" stroke-opacity="0.3" stroke-linejoin="round"/><polyline points="744.0,585.0 748.0,605.0 752.0,628.0 756.0,650.0 760.0,672.0 764.0,695.0 768.0,712.0 772.0,722.0 777.0,726.0" fill="none" stroke="#55129a" stroke-width="2.9" stroke-linejoin="round"/><polyline points="522.0,552.0 529.1,540.9 534.3,544.7 539.4,565.0 544.5,598.6 552.2,598.6 560.0,585.8 566.0,584.0 570.2,588.3 572.8,607.6 579.2,601.2 585.0,590.0 589.4,580.0 597.6,585.0 605.7,583.3 613.9,567.0 622.0,568.6 628.6,581.6 630.5,593.4 638.2,598.6 647.2,605.0 655.0,590.0 663.0,575.0 671.0,565.0 679.3,557.5 687.0,548.5 694.7,552.4 702.4,538.3 708.8,539.5 715.2,531.9 721.6,534.4 728.0,529.3 735.7,529.3 740.9,534.4 746.0,549.8 751.1,575.5 754.5,600.0 757.5,620.0 760.5,640.0 764.3,659.2 767.0,675.0 769.4,689.7 772.7,708.3 775.0,716.0 777.0,721.8" fill="none" stroke="#3030c8" stroke-width="2.9" stroke-opacity="0.3" stroke-linejoin="round"/><polyline points="570.2,588.3 572.8,607.6 579.2,601.2" fill="none" stroke="#3030c8" stroke-width="2.9" stroke-linejoin="round"/><polyline points="630.5,593.4 638.2,598.6 647.2,605.0" fill="none" stroke="#3030c8" stroke-width="2.9" stroke-linejoin="round"/><polyline points="679.3,557.5 687.0,548.5 694.7,552.4 702.4,538.3 708.8,539.5 715.2,531.9 721.6,534.4 728.0,529.3 735.7,529.3 740.9,534.4 746.0,549.8 751.1,575.5 754.5,600.0 757.5,620.0 760.5,640.0 764.3,659.2 767.0,675.0 769.4,689.7 772.7,708.3 775.0,716.0 777.0,721.8" fill="none" stroke="#3030c8" stroke-width="2.9" stroke-linejoin="round"/><polyline points="471.4,529.3 477.8,522.9 484.2,513.9 488.1,515.2 493.2,525.5 499.6,537.0 504.8,526.7 509.9,537.0 515.0,549.8 521.4,555.0 526.6,560.1 533.0,566.5 539.4,569.1 544.5,565.2 552.2,583.2 557.4,576.8 562.5,583.2 566.4,575.5 572.8,549.8 580.5,567.8 585.6,585.8 589.5,599.9 595.9,583.2 606.1,557.5 613.8,578.1 620.3,572.9 625.4,562.6 630.5,557.5 635.7,558.8 642.1,551.1 647.2,562.6 654.9,578.0 662.6,594.7 669.0,585.7 676.7,588.3 685.7,594.7 692.1,588.3 697.2,593.4 703.7,598.6 712.6,596.0 720.3,587.0 728.0,572.9 735.7,560.1 740.9,565.2 746.0,583.2 751.1,603.7 754.0,618.0 757.0,633.0 760.0,650.0 763.0,668.0 766.0,690.0 768.0,708.0 770.0,722.0 773.0,729.0 777.0,730.0" fill="none" stroke="#2e4bdc" stroke-width="2.9" stroke-opacity="0.3" stroke-linejoin="round"/><polyline points="471.4,529.3 477.8,522.9 484.2,513.9 488.1,515.2 493.2,525.5 499.6,537.0 504.8,526.7 509.9,537.0 515.0,549.8 521.4,555.0 526.6,560.1 533.0,566.5 539.4,569.1 544.5,565.2 552.2,583.2 557.4,576.8 562.5,583.2 566.4,575.5 572.8,549.8 580.5,567.8 585.6,585.8 589.5,599.9 595.9,583.2 606.1,557.5 613.8,578.1 620.3,572.9 625.4,562.6 630.5,557.5 635.7,558.8 642.1,551.1 647.2,562.6 654.9,578.0 662.6,594.7 669.0,585.7 676.7,588.3 685.7,594.7 692.1,588.3 697.2,593.4 703.7,598.6 712.6,596.0 720.3,587.0 728.0,572.9 735.7,560.1 740.9,565.2 746.0,583.2 751.1,603.7 754.0,618.0 757.0,633.0 760.0,650.0 763.0,668.0 766.0,690.0 768.0,708.0 770.0,722.0 773.0,729.0 777.0,730.0" fill="none" stroke="#2e4bdc" stroke-width="2.9" stroke-linejoin="round"/>
<g stroke-width="1.5"><line x1="83.6" y1="104.6" x2="83.6" y2="373.2" stroke="#262828"/><line x1="777.2" y1="99.5" x2="777.2" y2="373.2" stroke="#262828"/><line x1="83.4" y1="471" x2="83.4" y2="740.3" stroke="#262828"/><line x1="777.3" y1="470.3" x2="777.3" y2="740.3" stroke="#262828"/><line x1="83.6" y1="372.6" x2="87.4" y2="372.6" stroke="#262828"/><line x1="83.6" y1="319.0" x2="87.4" y2="319.0" stroke="#262828"/><line x1="83.6" y1="265.4" x2="87.4" y2="265.4" stroke="#262828"/><line x1="83.6" y1="211.8" x2="87.4" y2="211.8" stroke="#262828"/><line x1="83.6" y1="158.2" x2="87.4" y2="158.2" stroke="#262828"/><line x1="83.6" y1="104.6" x2="87.4" y2="104.6" stroke="#262828"/><line x1="83.4" y1="739.6" x2="87.3" y2="739.6" stroke="#262828"/><line x1="83.4" y1="652.8" x2="87.3" y2="652.8" stroke="#262828"/><line x1="83.4" y1="565.9" x2="87.3" y2="565.9" stroke="#262828"/><line x1="83.4" y1="479.1" x2="87.3" y2="479.1" stroke="#262828"/><line x1="83.0" y1="372.6" x2="414.6" y2="372.6" stroke="#434b4b"/><line x1="446.8" y1="372.6" x2="777.9" y2="372.6" stroke="#434b4b"/><line x1="82.8" y1="739.6" x2="414.6" y2="739.6" stroke="#434b4b"/><line x1="446.7" y1="739.6" x2="778.0" y2="739.6" stroke="#434b4b"/><line x1="149.7" y1="372.6" x2="149.7" y2="368.8" stroke="#434b4b"/><line x1="149.7" y1="739.6" x2="149.7" y2="735.8" stroke="#434b4b"/><line x1="215.8" y1="372.6" x2="215.8" y2="368.8" stroke="#434b4b"/><line x1="215.8" y1="739.6" x2="215.8" y2="735.8" stroke="#434b4b"/><line x1="281.9" y1="372.6" x2="281.9" y2="368.8" stroke="#434b4b"/><line x1="281.9" y1="739.6" x2="281.9" y2="735.8" stroke="#434b4b"/><line x1="348.0" y1="372.6" x2="348.0" y2="368.8" stroke="#434b4b"/><line x1="348.0" y1="739.6" x2="348.0" y2="735.8" stroke="#434b4b"/><line x1="513" y1="372.6" x2="513" y2="368.8" stroke="#434b4b"/><line x1="513" y1="739.6" x2="513" y2="735.8" stroke="#434b4b"/><line x1="579" y1="372.6" x2="579" y2="368.8" stroke="#434b4b"/><line x1="579" y1="739.6" x2="579" y2="735.8" stroke="#434b4b"/><line x1="645" y1="372.6" x2="645" y2="368.8" stroke="#434b4b"/><line x1="645" y1="739.6" x2="645" y2="735.8" stroke="#434b4b"/><line x1="711" y1="372.6" x2="711" y2="368.8" stroke="#434b4b"/><line x1="711" y1="739.6" x2="711" y2="735.8" stroke="#434b4b"/></g>
<g transform="translate(53.92 379.30)"><g transform="scale(1 0.94)"><text x="0.00" y="0" font-size="30.0" stroke="#111" stroke-width="0.5">0</text></g></g>
<g transform="translate(53.92 271.70)"><g transform="scale(1 0.94)"><text x="0.00" y="0" font-size="30.0" stroke="#111" stroke-width="0.5">4</text></g></g>
<g transform="translate(53.92 164.10)"><g transform="scale(1 0.94)"><text x="0.00" y="0" font-size="30.0" stroke="#111" stroke-width="0.5">8</text></g></g>
<g transform="translate(39.24 572.30)"><g transform="scale(1 0.94)"><polygon points="9.00,0.00 11.94,0.00 11.94,-21.00 9.54,-21.00 9.00,-20.16 7.86,-19.02 6.15,-18.30 3.84,-17.94 3.84,-15.45 9.00,-15.84" fill="#111" stroke="#111" stroke-width="0.2"/><text x="16.68" y="0" font-size="30.0" stroke="#111" stroke-width="0.5">0</text></g></g>
<g transform="translate(53.92 746.70)"><g transform="scale(1 0.94)"><text x="0.00" y="0" font-size="30.0" stroke="#111" stroke-width="0.5">0</text></g></g>
<text x="26.6" y="397.6" font-size="29.05" text-anchor="middle" transform="rotate(-90 26.6 397.6)" stroke="#111" stroke-width="0.5">Firing rate (spk/s)</text>
<text x="240.9" y="847.8" font-size="29.4" text-anchor="middle" stroke="#111" stroke-width="0.5">Time (sec)</text>
<g transform="translate(158.55 776.9) rotate(-45) translate(-28.51 10.5)"><text x="0.00" y="0" font-size="29.3" stroke="#111" stroke-width="0.5">0.65</text></g>
<g transform="translate(214.6 777.0) rotate(-45) translate(-28.51 10.5)"><polygon points="8.79,0.00 11.66,0.00 11.66,-20.51 9.32,-20.51 8.79,-19.69 7.68,-18.58 6.01,-17.87 3.75,-17.52 3.75,-15.09 8.79,-15.47" fill="#111" stroke="#111" stroke-width="0.2"/><text x="16.29" y="0" font-size="29.3" stroke="#111" stroke-width="0.5">.30</text></g>
<g transform="translate(275.9 777.5) rotate(-45) translate(-28.51 10.5)"><polygon points="8.79,0.00 11.66,0.00 11.66,-20.51 9.32,-20.51 8.79,-19.69 7.68,-18.58 6.01,-17.87 3.75,-17.52 3.75,-15.09 8.79,-15.47" fill="#111" stroke="#111" stroke-width="0.2"/><text x="16.29" y="0" font-size="29.3" stroke="#111" stroke-width="0.5">.95</text></g>
<g transform="translate(336.7 776.95) rotate(-45) translate(-28.51 10.5)"><text x="0.00" y="0" font-size="29.3" stroke="#111" stroke-width="0.5">2.60</text></g>
<g transform="translate(516.55 781.4) rotate(-45) translate(-33.39 10.5)"><text x="0.00" y="0" font-size="29.3" stroke="#111" stroke-width="0.5">-2.60</text></g>
<g transform="translate(572.2 781.0) rotate(-45) translate(-33.39 10.5)"><text x="0.00" y="0" font-size="29.3" stroke="#111" stroke-width="0.5">-</text><polygon points="18.55,0.00 21.42,0.00 21.42,-20.51 19.07,-20.51 18.55,-19.69 17.43,-18.58 15.76,-17.87 13.51,-17.52 13.51,-15.09 18.55,-15.47" fill="#111" stroke="#111" stroke-width="0.2"/><text x="26.05" y="0" font-size="29.3" stroke="#111" stroke-width="0.5">.95</text></g>
<g transform="translate(633.6 780.8) rotate(-45) translate(-33.39 10.5)"><text x="0.00" y="0" font-size="29.3" stroke="#111" stroke-width="0.5">-</text><polygon points="18.55,0.00 21.42,0.00 21.42,-20.51 19.07,-20.51 18.55,-19.69 17.43,-18.58 15.76,-17.87 13.51,-17.52 13.51,-15.09 18.55,-15.47" fill="#111" stroke="#111" stroke-width="0.2"/><text x="26.05" y="0" font-size="29.3" stroke="#111" stroke-width="0.5">.30</text></g>
<g transform="translate(695.1 781.0) rotate(-45) translate(-33.39 10.5)"><text x="0.00" y="0" font-size="29.3" stroke="#111" stroke-width="0.5">-0.65</text></g>
<text x="0" y="0" font-size="23.6" text-anchor="middle" transform="translate(64.8 48.8) rotate(-45) translate(0 8.5)" stroke="#111" stroke-width="0.5">Joystick</text>
<text x="0" y="0" font-size="23.6" text-anchor="middle" transform="translate(83.6 68.0) rotate(-45) translate(0 8.5)" stroke="#111" stroke-width="0.5">onset</text>
<text x="0" y="0" font-size="23.6" text-anchor="middle" transform="translate(778.4 36.2) rotate(-45) translate(0 8.5)" stroke="#111" stroke-width="0.5">Joystick</text>
<text x="0" y="0" font-size="23.6" text-anchor="middle" transform="translate(798.4 56.0) rotate(-45) translate(0 8.5)" stroke="#111" stroke-width="0.5">offset</text>
<text x="811.7" y="297.6" font-size="28.5" text-anchor="start" transform="translate(811.7 297.6) scale(1 1.04) translate(-811.7 -297.6)" stroke="#111" stroke-width="0.5" letter-spacing="0.3">Distance</text>
<line x1="811.6" y1="299.9" x2="924.8" y2="299.9" stroke="#111" stroke-width="1.8"/>
<line x1="831.3" y1="329.9" x2="860.8" y2="329.9" stroke="#2e4bdc" stroke-width="2.4"/>
<g transform="translate(873.60 337.20)"><g transform="scale(1 0.94)"><text x="0.00" y="0" font-size="30.0" stroke="#111" stroke-width="0.5">5</text></g></g>
<line x1="831.3" y1="364.1" x2="860.8" y2="364.1" stroke="#3030c8" stroke-width="2.4"/>
<g transform="translate(873.60 371.40)"><g transform="scale(1 0.94)"><text x="0.00" y="0" font-size="30.0" stroke="#111" stroke-width="0.5">4</text></g></g>
<line x1="831.3" y1="398.6" x2="860.8" y2="398.6" stroke="#55129a" stroke-width="2.4"/>
<g transform="translate(873.60 405.90)"><g transform="scale(1 0.94)"><text x="0.00" y="0" font-size="30.0" stroke="#111" stroke-width="0.5">3</text></g></g>
<line x1="831.3" y1="433.3" x2="860.8" y2="433.3" stroke="#b0125a" stroke-width="2.4"/>
<g transform="translate(873.60 440.60)"><g transform="scale(1 0.94)"><text x="0.00" y="0" font-size="30.0" stroke="#111" stroke-width="0.5">2</text></g></g>
<line x1="831.3" y1="467.3" x2="860.8" y2="467.3" stroke="#e01428" stroke-width="2.4"/>
<g transform="translate(873.60 474.60)"><g transform="scale(1 0.94)"><polygon points="9.00,0.00 11.94,0.00 11.94,-21.00 9.54,-21.00 9.00,-20.16 7.86,-19.02 6.15,-18.30 3.84,-17.94 3.84,-15.45 9.00,-15.84" fill="#111" stroke="#111" stroke-width="0.2"/></g></g>
</svg>
</body></html>
